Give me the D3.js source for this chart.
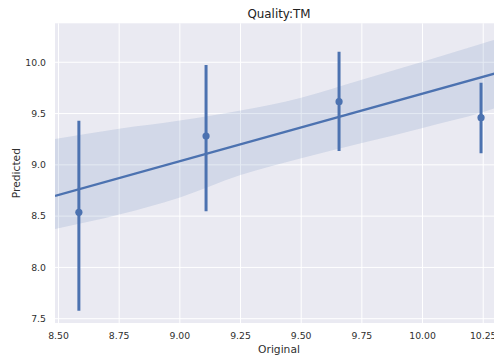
<!DOCTYPE html>
<html>
<head>
<meta charset="utf-8">
<script src="https://cdn.jsdelivr.net/npm/d3@7"></script>
<style>
  html, body { margin: 0; padding: 0; background: #fff; }
  svg { display: block; font-family: "DejaVu Sans", sans-serif; }
</style>
</head>
<body>
<svg id="chart" width="494" height="358"></svg>
<script>
// Binned means with confidence intervals
const xVals  = [8.584, 9.108, 9.656, 10.241];
const yMean  = [8.537, 9.281, 9.616, 9.460];
const ciLow  = [7.578, 8.547, 9.135, 9.113];
const ciHigh = [9.430, 9.974, 10.103, 9.800];

// Regression fit and its confidence band
const fitX = [8.4856, 10.3315];
const fitY = [8.697, 9.913];
const bandX     = [8.4856, 8.75, 9.0, 9.25, 9.5, 9.75, 10.0, 10.25, 10.3315];
const bandUpper = [9.252, 9.352, 9.432, 9.530, 9.655, 9.830, 10.006, 10.186, 10.243];
const bandLower = [8.375, 8.515, 8.682, 8.900, 9.064, 9.212, 9.360, 9.515, 9.578];

const xTicks = [8.5, 8.75, 9.0, 9.25, 9.5, 9.75, 10.0, 10.25];
const yTicks = [7.5, 8.0, 8.5, 9.0, 9.5, 10.0];

const title = "Quality:TM";
const xLabel = "Original";
const yLabel = "Predicted";

const svg = d3.select("#chart");
const m = { left: 55, top: 23.3, right: 503, bottom: 323 };
const blue = "#4C72B0";
const textColor = "#303030";

const x = d3.scaleLinear().domain([8.4856, 10.3315]).range([m.left, m.right]);
const y = d3.scaleLinear().domain([7.458, 10.380]).range([m.bottom, m.top]);

svg.append("defs").append("clipPath").attr("id", "plotClip")
  .append("rect")
  .attr("x", m.left).attr("y", m.top)
  .attr("width", m.right - m.left).attr("height", m.bottom - m.top);

// Background
svg.append("rect")
  .attr("x", m.left).attr("y", m.top)
  .attr("width", m.right - m.left).attr("height", m.bottom - m.top)
  .attr("fill", "#EAEAF2");

// Grid
const grid = svg.append("g").attr("stroke", "#fff").attr("stroke-width", 1);
grid.selectAll(".gx").data(xTicks).join("line")
  .attr("x1", d => x(d)).attr("x2", d => x(d))
  .attr("y1", m.top).attr("y2", m.bottom);
grid.selectAll(".gy").data(yTicks).join("line")
  .attr("x1", m.left).attr("x2", m.right)
  .attr("y1", d => y(d)).attr("y2", d => y(d));

const plot = svg.append("g").attr("clip-path", "url(#plotClip)");

// Confidence band
const band = bandX.map((d, i) => ({ x: d, lo: bandLower[i], hi: bandUpper[i] }));
plot.append("path")
  .datum(band)
  .attr("fill", blue).attr("fill-opacity", 0.15)
  .attr("d", d3.area().curve(d3.curveMonotoneX)
    .x(d => x(d.x)).y0(d => y(d.lo)).y1(d => y(d.hi)));

// Regression line
plot.append("path")
  .datum(fitX.map((d, i) => [d, fitY[i]]))
  .attr("fill", "none").attr("stroke", blue).attr("stroke-width", 2.4)
  .attr("d", d3.line().x(d => x(d[0])).y(d => y(d[1])));

// Error bars and means
const pts = xVals.map((d, i) => ({ x: d, y: yMean[i], lo: ciLow[i], hi: ciHigh[i] }));
plot.selectAll(".err").data(pts).join("line")
  .attr("x1", d => x(d.x)).attr("x2", d => x(d.x))
  .attr("y1", d => y(d.lo)).attr("y2", d => y(d.hi))
  .attr("stroke", blue).attr("stroke-width", 3);
plot.selectAll(".dot").data(pts).join("circle")
  .attr("cx", d => x(d.x)).attr("cy", d => y(d.y)).attr("r", 3.6)
  .attr("fill", blue);

// Tick labels
svg.append("g").selectAll("text").data(xTicks).join("text")
  .attr("x", d => x(d)).attr("y", 338.5)
  .attr("text-anchor", "middle")
  .attr("font-size", 9.3).attr("fill", textColor)
  .text(d => d3.format(".2f")(d));
svg.append("g").selectAll("text").data(yTicks).join("text")
  .attr("x", 46).attr("y", d => y(d)).attr("dy", "0.35em")
  .attr("text-anchor", "end")
  .attr("font-size", 9.3).attr("fill", textColor)
  .text(d => d3.format(".1f")(d));

// Title and axis labels
svg.append("text")
  .attr("x", (m.left + m.right) / 2).attr("y", 17.5)
  .attr("text-anchor", "middle").attr("font-size", 11.9).attr("fill", "#222")
  .text(title);
svg.append("text")
  .attr("x", (m.left + m.right) / 2).attr("y", 352.5)
  .attr("text-anchor", "middle").attr("font-size", 10.7).attr("fill", textColor)
  .text(xLabel);
svg.append("text")
  .attr("transform", `translate(19.5, ${(m.top + m.bottom) / 2}) rotate(-90)`)
  .attr("text-anchor", "middle").attr("font-size", 10.7).attr("fill", textColor)
  .text(yLabel);
</script>
</body>
</html>
